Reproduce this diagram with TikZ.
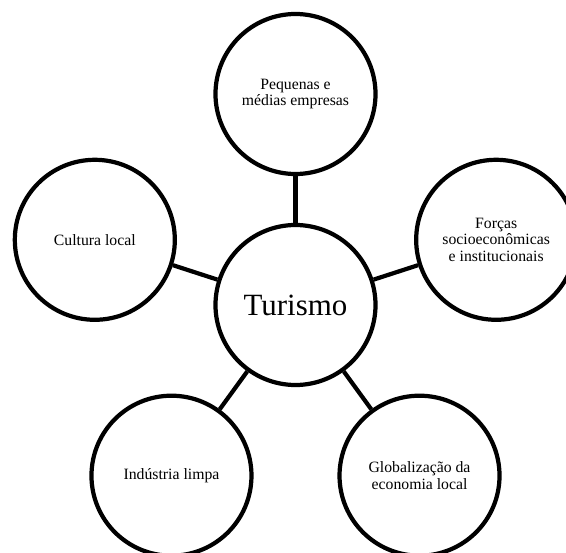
\documentclass[tikz,border=0pt]{standalone}
\usepackage{fontspec}
\setmainfont{Liberation Serif}
\usepackage{tikz}
\usetikzlibrary{positioning}

\begin{document}
\begin{tikzpicture}[
    topic/.style={circle, draw=black, line width=3pt, minimum size=4cm, inner sep=0pt, align=center, font=\fontsize{11.2}{11.8}\selectfont},
    hub/.style={topic, font=\fontsize{22}{24}\selectfont},
    link/.style={-, line width=3pt}
]
\useasboundingbox (-7.3875,-6.175) rectangle (6.7625,7.625);

% Center
\node[hub] (turismo) at (0,0) {Turismo};

% Ring of factors
\node[topic] (pme) at (90:5.275) {Pequenas e\\médias empresas};
\node[topic] (forcas) at (18:5.275) {Forças\\socioeconômicas\\e institucionais};
\node[topic] (global) at (-54:5.275) {Globalização da\\economia local};
\node[topic] (industria) at (-126:5.275) {Indústria limpa};
\node[topic] (cultura) at (162:5.275) {Cultura local};

% Links to the center
\draw[link] (turismo) -- (pme);
\draw[link] (turismo) -- (forcas);
\draw[link] (turismo) -- (global);
\draw[link] (turismo) -- (industria);
\draw[link] (turismo) -- (cultura);

\end{tikzpicture}
\end{document}
